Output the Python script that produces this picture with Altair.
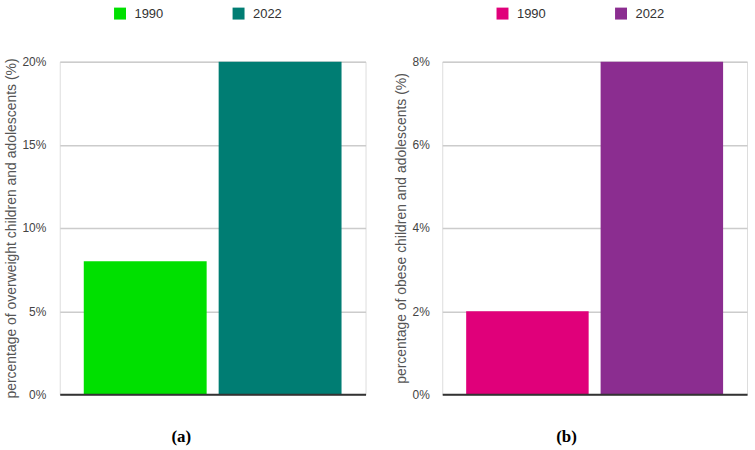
import altair as alt
import pandas as pd

# Share of children and adolescents, 1990 vs 2022 (percent)
years = ["1990", "2022"]
overweight_pct = [8, 20]
obese_pct = [2, 8]

overweight_colors = ["#00E000", "#007D73"]
obese_colors = ["#E0007A", "#8B2D90"]

SANS = "Liberation Sans, Arial, sans-serif"


def panel(values, colors, y_title, y_max, y_step, caption, width, label_pad, title_pad):
    df = pd.DataFrame({"year": years, "pct": values})
    return (
        alt.Chart(df)
        .mark_bar()
        .encode(
            x=alt.X(
                "year:N",
                sort=years,
                scale=alt.Scale(paddingInner=0.089, paddingOuter=0.178),
                axis=alt.Axis(
                    labels=False, ticks=False, title=None, domain=True,
                    domainColor="#333333", domainWidth=2, zindex=1, grid=False,
                ),
            ),
            y=alt.Y(
                "pct:Q",
                scale=alt.Scale(domain=[0, y_max], nice=False),
                axis=alt.Axis(
                    values=list(range(0, y_max + 1, y_step)),
                    labelExpr="datum.value + '%'",
                    title=y_title,
                    titleFont=SANS, titleFontSize=14, titleFontWeight="normal",
                    titleColor="#555555", titlePadding=title_pad,
                    labelFont=SANS, labelFontSize=12, labelColor="#444444",
                    labelPadding=label_pad,
                    ticks=False, domain=False,
                    grid=True, gridColor="#cccccc", gridWidth=1.5,
                ),
            ),
            color=alt.Color(
                "year:N",
                scale=alt.Scale(domain=years, range=colors),
                legend=alt.Legend(
                    title=None, orient="none", legendX=54, legendY=-55,
                    direction="horizontal", columns=2, columnPadding=69,
                    symbolType="square", symbolSize=144, symbolStrokeWidth=0,
                    labelFont=SANS, labelFontSize=13, labelColor="#333333",
                    labelOffset=8, padding=0,
                ),
            ),
        )
        .properties(
            width=width,
            height=334,
            title=alt.TitleParams(
                caption, orient="bottom", frame="bounds", anchor="middle",
                font="Liberation Serif", fontSize=17, fontWeight="bold",
                color="#000000", offset=29, dx=-4,
            ),
        )
    )


left = panel(overweight_pct, overweight_colors,
             "percentage of overweight children and adolescents (%)",
             20, 5, "(a)", 307, 14, 3)
right = panel(obese_pct, obese_colors,
              "percentage of obese children and adolescents (%)",
              8, 2, "(b)", 306, 13, 4)

chart = (
    alt.hconcat(left, right, spacing=27)
    .resolve_scale(color="independent", x="independent", y="independent")
    .properties(padding={"left": 4, "top": 5, "right": 7, "bottom": 0})
    .configure_view(strokeWidth=0)
    .configure(background="white")
)

chart.save("out.html", embed_options={"renderer": "svg", "actions": False})
